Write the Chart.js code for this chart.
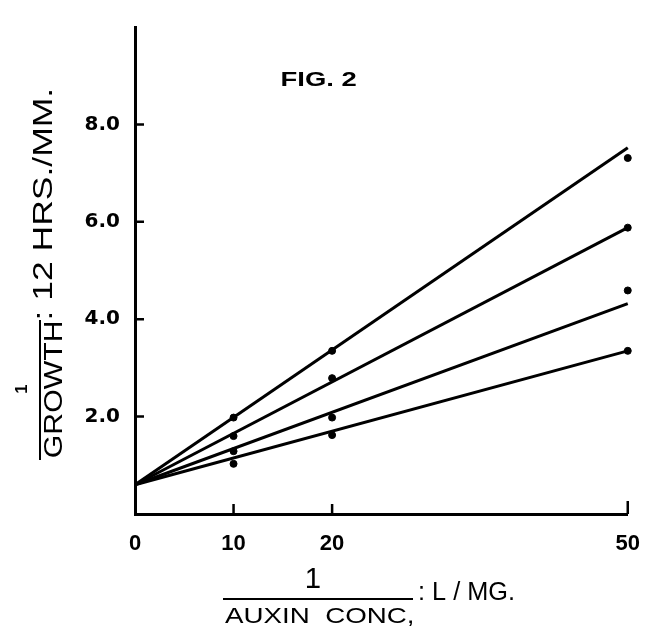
<!DOCTYPE html>
<html>
<head>
<meta charset="utf-8">
<script src="https://cdn.jsdelivr.net/npm/chart.js@4"></script>
<style>
  body { margin: 0; background: #fff; }
  canvas { display: block; }
</style>
</head>
<body>
<canvas id="fig2" width="657" height="640"></canvas>
<script>
// 1 / auxin conc. (L/mg) where growth was measured
const xPoints = [10, 20, 50];
// 1 / growth (12 hrs./mm.), one array per curve, top to bottom
const series1 = [1.98, 3.35, 7.31];
const series2 = [1.60, 2.79, 5.88];
const series3 = [1.29, 1.98, 4.59];
const series4 = [1.03, 1.62, 3.35];
// fitted straight lines: common intercept at x = 0, value at x = 50
const fitX = [0, 50];
const fitIntercept = 0.6;
const fitEnd = [7.52, 5.88, 4.32, 3.35];
// axis ticks
const xTickValues = [0, 10, 20, 50];
const xTickMarks = [10, 20, 50];
const yTickValues = [2, 4, 6, 8];

const allSeries = [series1, series2, series3, series4];

const lineSets = fitEnd.map(end => ({
    type: 'line',
    data: fitX.map((x, i) => ({ x: x, y: i === 0 ? fitIntercept : end })),
    borderColor: '#000',
    borderWidth: 3,
    pointRadius: 0,
    showLine: true,
    clip: 6
}));

const pointSets = allSeries.map(s => ({
    data: xPoints.map((x, i) => ({ x: x, y: s[i] })),
    backgroundColor: '#000',
    borderColor: '#000',
    pointRadius: 3.5,
    showLine: false,
    clip: 6
}));

const fam = '"Liberation Sans", Arial, sans-serif';

// stretch text so that its ink fills the given length and cap height
function fitText(ctx, text, len, capH, weight) {
    ctx.font = `${weight} ${capH / 0.716}px ${fam}`;
    const m = ctx.measureText(text);
    const w = m.actualBoundingBoxLeft + m.actualBoundingBoxRight;
    ctx.save();
    ctx.scale(len / w, 1);
    ctx.textAlign = 'left';
    ctx.textBaseline = 'alphabetic';
    ctx.fillText(text, m.actualBoundingBoxLeft, 0);
    ctx.restore();
}

// plain centred text, natural width
function centreText(ctx, text, capH, weight) {
    ctx.font = `${weight} ${capH / 0.716}px ${fam}`;
    ctx.textAlign = 'center';
    ctx.textBaseline = 'alphabetic';
    ctx.fillText(text, 0, 0);
}

const lettering = {
    id: 'lettering',
    afterDraw(chart) {
        const ctx = chart.ctx;
        const xs = chart.scales.x, ys = chart.scales.y;
        ctx.save();
        ctx.strokeStyle = '#000';
        ctx.fillStyle = '#000';
        ctx.lineWidth = 2.5;

        // inward tick marks
        ctx.beginPath();
        yTickValues.forEach(v => {
            const py = ys.getPixelForValue(v);
            ctx.moveTo(xs.left, py);
            ctx.lineTo(xs.left + 9, py);
        });
        xTickMarks.forEach(v => {
            const px = xs.getPixelForValue(v);
            ctx.moveTo(px, ys.bottom);
            ctx.lineTo(px, ys.bottom - (v === 50 ? 13 : 10));
        });
        ctx.stroke();

        // FIG. 2
        ctx.save();
        ctx.translate(282, 86);
        fitText(ctx, 'FIG. 2', 75, 14, 'bold');
        ctx.restore();

        // y title (rotated)
        ctx.save();
        ctx.translate(27, 389);
        ctx.rotate(-Math.PI / 2);
        centreText(ctx, '1', 12, 'bold');
        ctx.restore();

        ctx.lineWidth = 2;
        ctx.beginPath();
        ctx.moveTo(40, 320);
        ctx.lineTo(40, 460);
        ctx.stroke();

        ctx.save();
        ctx.translate(62, 457);
        ctx.rotate(-Math.PI / 2);
        fitText(ctx, 'GROWTH', 134, 19, 'normal');
        ctx.restore();

        ctx.save();
        ctx.translate(52, 318);
        ctx.rotate(-Math.PI / 2);
        fitText(ctx, ': 12 HRS./MM.', 228, 20, 'normal');
        ctx.restore();

        // x title
        ctx.save();
        ctx.translate(313, 588);
        centreText(ctx, '1', 21, 'normal');
        ctx.restore();

        ctx.beginPath();
        ctx.moveTo(223, 599);
        ctx.lineTo(413, 599);
        ctx.stroke();

        ctx.save();
        ctx.translate(225, 623);
        fitText(ctx, 'AUXIN  CONC,', 188, 16, 'normal');
        ctx.restore();

        ctx.save();
        ctx.translate(420, 600);
        fitText(ctx, ': L / MG.', 93, 18, 'normal');
        ctx.restore();

        ctx.restore();
    }
};

new Chart(document.getElementById('fig2'), {
    type: 'scatter',
    data: { datasets: [...lineSets, ...pointSets] },
    options: {
        responsive: false,
        animation: false,
        devicePixelRatio: 1,
        layout: { padding: { top: 10, right: 16, left: 0, bottom: 0 } },
        plugins: {
            legend: { display: false },
            tooltip: { enabled: false }
        },
        scales: {
            x: {
                type: 'linear',
                min: 0,
                max: 50,
                afterFit(s) { s.height = 126; },
                afterBuildTicks(s) { s.ticks = xTickValues.map(v => ({ value: v })); },
                grid: { drawOnChartArea: false, drawTicks: false },
                border: { color: '#000', width: 3 },
                ticks: {
                    color: '#000',
                    font: { family: fam, size: 22, weight: 'bold' },
                    padding: 17,
                    maxRotation: 0,
                    autoSkip: false,
                    callback: v => String(v)
                }
            },
            y: {
                type: 'linear',
                min: 0,
                max: 10,
                afterFit(s) { s.width = 135; },
                afterBuildTicks(s) { s.ticks = yTickValues.map(v => ({ value: v })); },
                grid: { drawOnChartArea: false, drawTicks: false },
                border: { color: '#000', width: 3 },
                ticks: {
                    color: '#000',
                    font: { family: '"DejaVu Sans", sans-serif', size: 20, weight: 'bold' },
                    padding: 15,
                    callback: v => v.toFixed(1)
                }
            }
        }
    },
    plugins: [lettering]
});
</script>
</body>
</html>
